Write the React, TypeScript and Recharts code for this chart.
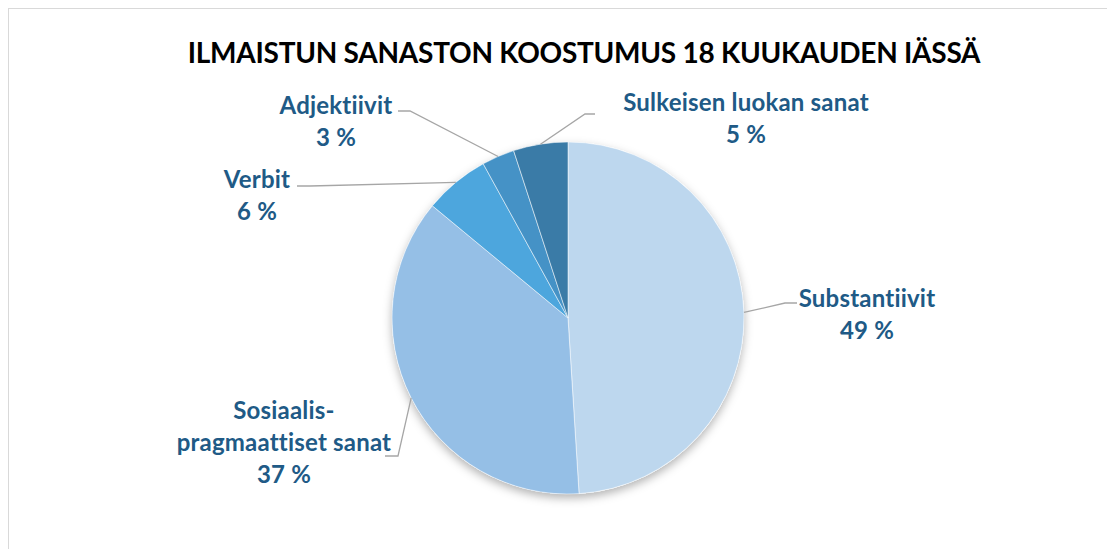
import * as React from 'react';
import { PieChart, Pie, Cell } from 'recharts';

const categories = [
  'Substantiivit',
  'Sosiaalis-pragmaattiset sanat',
  'Verbit',
  'Adjektiivit',
  'Sulkeisen luokan sanat',
];
const shares = [49, 37, 6, 3, 5];
const labelLines = [
  ['Substantiivit'],
  ['Sosiaalis-', 'pragmaattiset sanat'],
  ['Verbit'],
  ['Adjektiivit'],
  ['Sulkeisen luokan sanat'],
];
const sliceColors = ['#BDD7EE', '#95BFE6', '#4DA6DD', '#4592C6', '#3A7BA7'];

// label placement, px offsets from the pie centre: text block centre, elbow, line end
const labelLayout = [
  { tx: 299, ty: -5, ex: 217, ey: -15, hx: 229 },
  { tx: -284, ty: 123, ex: -170, ey: 138, hx: -183 },
  { tx: -311, ty: -124, ex: -258, ey: -132, hx: -271 },
  { tx: -232, ty: -198, ex: -158, ey: -207, hx: -170 },
  { tx: 178, ty: -201, ex: 17, ey: -204, hx: 27 },
];

const data = categories.map((name, i) => ({ name, value: shares[i] }));

const TEXT_COLOR = '#205A86';
const FONT = 'Lato, "Open Sans", sans-serif';
const RAD = Math.PI / 180;
const LINE_H = 32;

const renderLabel = (props: any) => {
  const { cx, cy, midAngle, outerRadius, index } = props;
  const lay = labelLayout[index];
  const sx = cx + outerRadius * Math.cos(-midAngle * RAD);
  const sy = cy + outerRadius * Math.sin(-midAngle * RAD);
  const lines = [...labelLines[index], `${shares[index]} %`];
  const top = cy + lay.ty - ((lines.length - 1) * LINE_H) / 2;
  return (
    <g key={`lbl-${index}`}>
      <polyline
        points={`${sx},${sy} ${cx + lay.ex},${cy + lay.ey} ${cx + lay.hx},${cy + lay.ey}`}
        fill="none"
        stroke="#A6A6A6"
        strokeWidth={1.3}
      />
      <text
        x={cx + lay.tx}
        y={top}
        textAnchor="middle"
        dominantBaseline="central"
        fill={TEXT_COLOR}
        fontFamily={FONT}
        fontWeight="bold"
        fontSize={24}
        letterSpacing={0.2}
      >
        {lines.map((l, i) => (
          <tspan key={i} x={cx + lay.tx} dy={i === 0 ? 0 : LINE_H}>
            {l}
          </tspan>
        ))}
      </text>
    </g>
  );
};

export default function App() {
  return (
    <div
      style={{
        width: 1106,
        height: 540,
        borderTop: '1px solid #D9D9D9',
        borderLeft: '1px solid #D9D9D9',
        background: '#fff',
        position: 'relative',
        overflow: 'hidden',
      }}
    >
      <div
        style={{
          position: 'absolute',
          top: 26,
          left: 0,
          width: 1150,
          textAlign: 'center',
          fontFamily: FONT,
          fontWeight: 'bold',
          fontSize: 28,
          letterSpacing: -0.25,
          color: '#000',
        }}
      >
        ILMAISTUN SANASTON KOOSTUMUS 18 KUUKAUDEN IÄSSÄ
      </div>
      <PieChart width={1106} height={540} margin={{ top: 0, right: 0, bottom: 0, left: 0 }}>
        <defs>
          <filter id="pieShadow" x="-20%" y="-20%" width="140%" height="140%">
            <feDropShadow dx="0" dy="4" stdDeviation="5" floodColor="#000" floodOpacity="0.3" />
          </filter>
        </defs>
        <Pie
          data={[{ name: 'bg', value: 1 }]}
          dataKey="value"
          cx={559}
          cy={309}
          outerRadius={176}
          startAngle={90}
          endAngle={-270}
          isAnimationActive={false}
          stroke="none"
          fill="#fff"
          style={{ filter: 'url(#pieShadow)' }}
        />
        <Pie
          data={data}
          dataKey="value"
          nameKey="name"
          cx={559}
          cy={309}
          outerRadius={176}
          startAngle={90}
          endAngle={-270}
          isAnimationActive={false}
          stroke="#ffffff"
          strokeWidth={0.5}
          label={renderLabel}
          labelLine={false}
        >
          {data.map((d, i) => (
            <Cell key={d.name} fill={sliceColors[i]} />
          ))}
        </Pie>
      </PieChart>
    </div>
  );
}
